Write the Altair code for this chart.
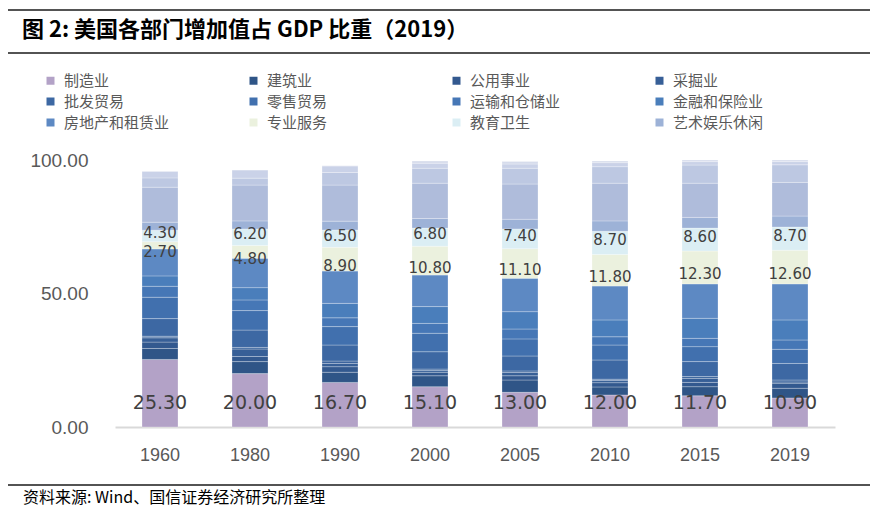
import altair as alt
import pandas as pd

years = ["1960", "1980", "1990", "2000", "2005", "2010", "2015", "2019"]

categories = [
    "制造业", "建筑业", "公用事业", "采掘业", "农林牧渔业",
    "批发贸易", "零售贸易", "运输和仓储业", "金融和保险业", "房地产和租赁业",
    "专业服务", "教育卫生", "艺术娱乐休闲",
    "政府", "信息业", "其他服务业", "其他",
]
legend_categories = [
    "制造业", "建筑业", "公用事业", "采掘业",
    "批发贸易", "零售贸易", "运输和仓储业", "金融和保险业",
    "房地产和租赁业", "专业服务", "教育卫生", "艺术娱乐休闲",
]
colors = [
    "#B3A2C7", "#2F5587", "#33598F", "#375F97", "#3A639C",
    "#3D68A3", "#4170AE", "#4677B6", "#4A7EBB", "#5D89C3",
    "#EBF1DE", "#DBEEF4", "#9DB2D7",
    "#AFBCDB", "#BDC8E2", "#CAD2E8", "#D6DCEC",
]

manufacturing = [25.3, 20.0, 16.7, 15.1, 13.0, 12.0, 11.7, 10.9]
construction = [4.1, 4.5, 3.8, 4.1, 4.6, 3.0, 3.4, 3.6]
utilities = [2.4, 1.9, 2.1, 1.3, 1.6, 1.6, 1.6, 1.9]
mining = [1.6, 2.8, 1.2, 0.7, 1.2, 0.8, 1.5, 0.5]
agriculture = [0.6, 0.6, 0.9, 0.5, 0.6, 0.5, 0.7, 0.7]
wholesale = [6.6, 6.5, 6.0, 6.5, 5.6, 7.2, 5.6, 6.2]
retail = [8.0, 7.3, 6.9, 6.9, 6.4, 5.6, 5.6, 5.3]
transport = [4.1, 4.0, 3.3, 3.7, 3.7, 3.1, 3.1, 3.5]
finance = [3.9, 4.6, 5.4, 6.3, 6.5, 6.3, 7.5, 7.5]
real_estate = [10.1, 11.0, 12.1, 11.8, 12.5, 12.7, 12.9, 13.5]
professional = [2.7, 4.8, 8.9, 10.8, 11.1, 11.8, 12.3, 12.6]
edu_health = [4.3, 6.2, 6.5, 6.8, 7.4, 8.7, 8.6, 8.7]
arts = [3.0, 3.0, 3.3, 3.6, 3.6, 3.9, 4.0, 4.1]
government = [13.1, 13.4, 13.5, 13.2, 13.2, 14.1, 12.8, 12.6]
information = [3.5, 2.6, 4.7, 5.6, 5.9, 6.2, 6.8, 6.6]
other_services = [2.5, 3.1, 2.5, 1.9, 1.6, 1.5, 1.3, 1.2]
other = [0.0, 0.0, 0.0, 0.8, 0.9, 0.6, 0.6, 0.6]

series = [
    manufacturing, construction, utilities, mining, agriculture,
    wholesale, retail, transport, finance, real_estate,
    professional, edu_health, arts,
    government, information, other_services, other,
]

title_text = "图 2:  美国各部门增加值占 GDP 比重（2019）"
source_text = "资料来源: Wind、国信证券经济研究所整理"

rows = []
for i, (cat, vals) in enumerate(zip(categories, series)):
    for yr, v in zip(years, vals):
        rows.append({"year": yr, "sector": cat, "order": i, "value": v})
df = pd.DataFrame(rows)

label_color = "#404040"
axis_color = "#595959"

x_enc = alt.X(
    "year:N", sort=years,
    scale=alt.Scale(paddingInner=0.6, paddingOuter=0.3),
    axis=alt.Axis(title=None, labelAngle=0, ticks=False, domainColor="#D9D9D9",
                  domainWidth=2, labelFont="Liberation Sans", labelFontSize=18,
                  labelColor=axis_color, labelPadding=19),
)

base = alt.Chart(df)

bars = base.mark_bar(stroke="#FFFFFF", strokeWidth=0.6, strokeOpacity=0.45).encode(
    x=x_enc,
    y=alt.Y(
        "value:Q", stack="zero",
        scale=alt.Scale(domain=[0, 100], nice=False),
        axis=alt.Axis(title=None, values=[0, 50, 100], format=".2f", grid=False,
                      domain=False, ticks=False, labelFont="Liberation Sans",
                      labelFontSize=19, labelColor=axis_color, labelPadding=27),
    ),
    color=alt.Color(
        "sector:N",
        scale=alt.Scale(domain=categories, range=colors),
        legend=alt.Legend(
            values=legend_categories, title=None, orient="none",
            legendX=-72, legendY=-87, columns=4, direction="horizontal",
            gridAlign="all", columnPadding=76, rowPadding=5,
            symbolType="square", symbolSize=64, symbolStrokeWidth=0,
            labelFont="Noto Sans CJK SC", labelFontSize=15, labelColor=axis_color,
            labelOffset=6, labelLimit=0, padding=0,
        ),
    ),
    order=alt.Order("order:Q", sort="ascending"),
)

stacked = base.transform_window(
    cum="sum(value)", groupby=["year"],
    sort=[alt.SortField("order", order="ascending")], frame=[None, 0],
).transform_calculate(mid="datum.cum - datum.value / 2")


def seg_labels(sector, dy):
    return (
        stacked.transform_filter(alt.datum.sector == sector)
        .mark_text(font="DejaVu Sans", fontSize=15, color=label_color, dy=dy)
        .encode(x=alt.X("year:N", sort=years), y="mid:Q",
                text=alt.Text("value:Q", format=".2f"))
    )


prof_labels = seg_labels("专业服务", 7)
edu_labels = seg_labels("教育卫生", -3)

manu_labels = (
    base.transform_filter(alt.datum.sector == "制造业")
    .mark_text(font="DejaVu Sans", fontSize=19, color=label_color)
    .encode(x=alt.X("year:N", sort=years), y=alt.datum(9),
            text=alt.Text("value:Q", format=".2f"))
)

one = pd.DataFrame({"k": [0]})
rule_style = dict(color="#1A1A1A", strokeWidth=1.3)
rule_top = alt.Chart(one).mark_rule(**rule_style).encode(
    x=alt.value(-107), x2=alt.value(755), y=alt.value(-150))
rule_mid = alt.Chart(one).mark_rule(**rule_style).encode(
    x=alt.value(-107), x2=alt.value(755), y=alt.value(-107))
rule_bot = alt.Chart(one).mark_rule(**rule_style).encode(
    x=alt.value(-107), x2=alt.value(755), y=alt.value(325))

source = alt.Chart(pd.DataFrame({"t": [source_text]})).mark_text(
    align="left", baseline="middle", font="Noto Sans CJK SC", fontSize=16, color="#000000"
).encode(x=alt.value(-92), y=alt.value(338), text="t:N")

chart = (
    alt.layer(bars, prof_labels, edu_labels, manu_labels,
              rule_top, rule_mid, rule_bot, source)
    .properties(
        width=720, height=267,
        title=alt.TitleParams(
            text=title_text, anchor="start", frame="group", dx=-93, offset=-50,
            baseline="alphabetic",
            font="Noto Sans CJK SC", fontSize=22, fontWeight="bold", color="#000000",
        ),
        autosize=alt.AutoSizeParams(type="none"),
        padding={"left": 115, "top": 160, "right": 43, "bottom": 84},
        background="#FFFFFF",
    )
    .configure_view(stroke=None)
)

chart.save("out.html", embed_options={"renderer": "svg", "actions": False})
